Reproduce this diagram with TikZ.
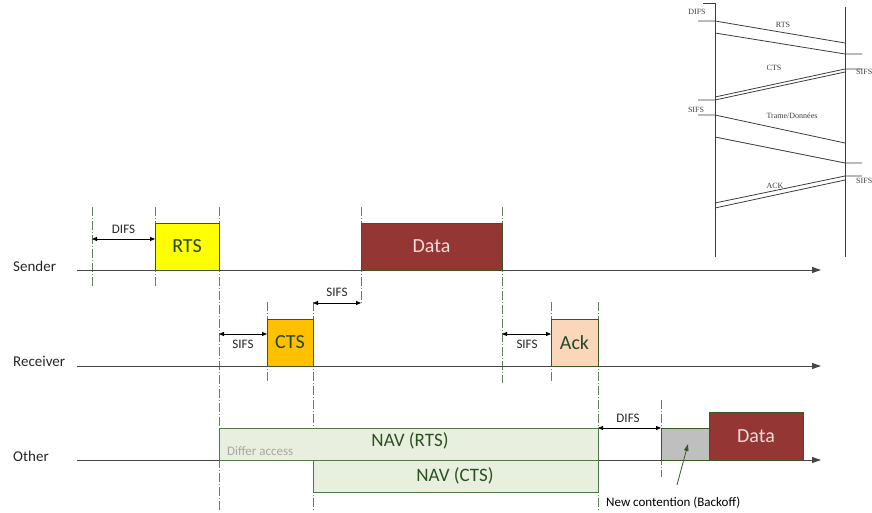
\documentclass[tikz,border=0pt]{standalone}
\usepackage{fontspec}
\setmainfont{Carlito}
\newfontfamily\insetfont{Liberation Serif}
\usetikzlibrary{arrows.meta}
\definecolor{boxborder}{RGB}{56,87,35}
\definecolor{vgreen}{RGB}{95,130,95}
\definecolor{txtgreen}{RGB}{40,70,40}
\definecolor{rtsfill}{RGB}{255,255,0}
\definecolor{ctsfill}{RGB}{255,192,0}
\definecolor{ackfill}{RGB}{250,215,185}
\definecolor{datafill}{RGB}{148,54,52}
\definecolor{datatxt}{RGB}{242,220,219}
\definecolor{navfill}{RGB}{232,239,222}
\definecolor{navborder}{RGB}{80,120,70}
\definecolor{navtxt}{RGB}{45,80,35}
\definecolor{tline}{RGB}{70,70,70}
\definecolor{boff}{RGB}{191,191,191}
\definecolor{lbl}{RGB}{38,38,38}
\definecolor{insetline}{RGB}{60,60,60}
\begin{document}
\begin{tikzpicture}[x=1pt,y=-1pt,
  framebox/.style={draw=boxborder, line width=0.9pt, inner sep=0pt, outer sep=0pt, anchor=south west, text=txtgreen, font=\fontsize{20}{20}\selectfont},
  navbox/.style={draw=navborder, fill=navfill, line width=0.9pt, inner sep=0pt, outer sep=0pt, anchor=south west},
  vline/.style={draw=vgreen, line width=0.8pt, dash pattern=on 9pt off 2pt on 1pt off 2pt},
  timeline/.style={draw=tline, line width=1pt, -{Triangle[length=9pt,width=6pt]}},
  dim/.style={draw=black, line width=0.8pt, {Triangle[length=5pt,width=4pt]}-{Triangle[length=5pt,width=4pt]}},
  dimlabel/.style={text=lbl, font=\fontsize{13}{13}\selectfont, inner sep=0pt},
  rowlabel/.style={text=lbl, font=\fontsize{15}{15}\selectfont, anchor=west, inner sep=0pt},
  iline/.style={draw=insetline, line width=0.8pt},
  ilabel/.style={text=insetline, font=\insetfont\fontsize{8}{8}\selectfont, inner sep=0pt}
]
\useasboundingbox (0,0) rectangle (872,513);

% ---------- dashed vertical guides ----------
\foreach \n/\x/\ya/\yb in {g1/92/207/287, g2/155/207/287, g3/219/207/510, g4/361/207/303,
  g5/502/207/383, g6/267/302/383, g7/313/302/510, g8/551/302/383, g9/598/302/510, g10/661/400/477}{
  \coordinate (\n a) at (\x,\ya);
  \coordinate (\n b) at (\x,\yb);
  \draw[vline] (\n a) -- (\n b);
}

% ---------- time lines ----------
\coordinate (s0) at (77,270); \coordinate (s1) at (821,270);
\coordinate (r0) at (77,366); \coordinate (r1) at (821,366);
\coordinate (o0) at (77,460); \coordinate (o1) at (821,460);
\draw[timeline] (s0) -- (s1);
\draw[timeline] (r0) -- (r1);
\draw[timeline] (o0) -- (o1);

\node[rowlabel] (sender) at (13,266) {Sender};
\node[rowlabel] (receiver) at (13,361) {Receiver};
\node[rowlabel] (other) at (13,456) {Other};

% ---------- frames ----------
\node[framebox, fill=rtsfill, minimum width=64pt, minimum height=47pt] (rts) at (155,270) {RTS};
\node[framebox, fill=datafill, text=datatxt, minimum width=141pt, minimum height=47pt] (data) at (361,270) {Data};
\node[framebox, fill=ctsfill, minimum width=46pt, minimum height=47pt] (cts) at (267,366) {CTS};
\node[framebox, fill=ackfill, minimum width=47pt, minimum height=47pt] (ack) at (551,366) {Ack};

\node[navbox, minimum width=379pt, minimum height=32pt] (navrts) at (219,460) {};
\node[navbox, minimum width=285pt, minimum height=32pt, anchor=north west] (navcts) at (313,460) {};
\node[text=navtxt, font=\fontsize{19}{19}\selectfont, inner sep=0pt] (navrtstxt) at (410,441) {NAV (RTS)};
\node[text=navtxt, font=\fontsize{19}{19}\selectfont, inner sep=0pt] (navctstxt) at (455,476) {NAV (CTS)};
\node[text=black!35, font=\fontsize{13}{13}\selectfont, anchor=west, inner sep=0pt] (differ) at (227,451) {Differ access};

\node[framebox, fill=boff, minimum width=48pt, minimum height=32pt] (backoff) at (661,460) {};
\node[framebox, fill=datafill, text=datatxt, minimum width=94pt, minimum height=48pt] (data2) at (709,460) {Data};

% ---------- intervals ----------
\coordinate (d1a) at (92,239);  \coordinate (d1b) at (155,239);
\coordinate (i1a) at (219,334); \coordinate (i1b) at (267,334);
\coordinate (i2a) at (313,303); \coordinate (i2b) at (361,303);
\coordinate (i3a) at (502,334); \coordinate (i3b) at (551,334);
\coordinate (d2a) at (598,428); \coordinate (d2b) at (661,428);
\draw[dim] (d1a) -- (d1b);
\draw[dim] (i1a) -- (i1b);
\draw[dim] (i2a) -- (i2b);
\draw[dim] (i3a) -- (i3b);
\draw[dim] (d2a) -- (d2b);
\node[dimlabel] (difs1) at (123.5,229) {DIFS};
\node[dimlabel] (sifs1) at (243,344) {SIFS};
\node[dimlabel] (sifs2) at (337,292) {SIFS};
\node[dimlabel] (sifs3) at (527,344) {SIFS};
\node[dimlabel] (difs2) at (628,418) {DIFS};

% ---------- new contention ----------
\node[text=black, font=\fontsize{13}{13}\selectfont, anchor=west, inner sep=0pt] (newcont) at (606,503) {New contention (Backoff)};
\coordinate (nc0) at (677,485);
\coordinate (nc1) at (688,444);
\draw[draw=boxborder, line width=0.8pt, -{Triangle[length=7pt,width=4.5pt]}] (nc0) -- (nc1);

% ---------- inset sequence diagram ----------
\coordinate (la) at (715,3);  \coordinate (lb) at (715,257);
\coordinate (ra) at (845,7);  \coordinate (rb) at (845,257);
\draw[iline] (la) -- (lb);
\draw[iline] (ra) -- (rb);
\draw[iline] (703,3) -- (la);
\draw[iline] (698,21) -- (715,21) -- (845,43);
\draw[iline] (715,33) -- (845,54) -- (862,54);
\draw[iline] (862,69) -- (845,69) -- (715,97);
\draw[iline] (845,72) -- (715,100) -- (698,100);
\draw[iline] (698,115) -- (715,115) -- (845,143);
\draw[iline] (715,137) -- (845,163) -- (862,163);
\draw[iline] (862,176) -- (845,176) -- (715,203);
\draw[iline] (845,180) -- (715,208);
\node[ilabel] (idifs) at (697,12) {DIFS};
\node[ilabel] (irts) at (783,25) {RTS};
\node[ilabel, anchor=west] (isifs1) at (856,72) {SIFS};
\node[ilabel] (icts) at (774,68) {CTS};
\node[ilabel] (isifs2) at (696,110) {SIFS};
\node[ilabel] (itrame) at (792,116) {Trame/Données};
\node[ilabel, anchor=west] (isifs3) at (856,181) {SIFS};
\node[ilabel] (iack) at (775,186) {ACK};
\end{tikzpicture}
\end{document}
